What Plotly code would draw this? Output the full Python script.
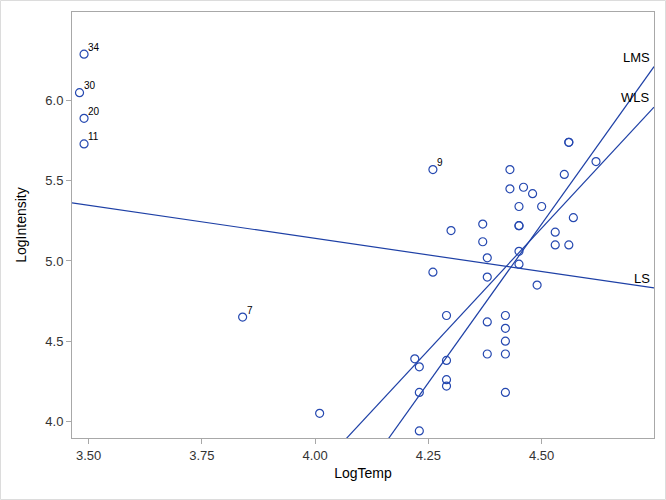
import plotly.graph_objects as go

# Star cluster CYG OB1 data
star_id = list(range(1, 48))
log_temp = [4.37, 4.56, 4.26, 4.56, 4.30, 4.46, 3.84, 4.57, 4.26, 4.37,
            3.49, 4.43, 4.48, 4.01, 4.29, 4.42, 4.23, 4.42, 4.23, 3.49,
            4.29, 4.29, 4.42, 4.49, 4.38, 4.42, 4.29, 4.38, 4.22, 3.48,
            4.38, 4.56, 4.45, 3.49, 4.23, 4.62, 4.53, 4.45, 4.53, 4.43,
            4.38, 4.45, 4.50, 4.45, 4.55, 4.45, 4.42]
log_intensity = [5.23, 5.74, 4.93, 5.74, 5.19, 5.46, 4.65, 5.27, 5.57, 5.12,
                 5.73, 5.45, 5.42, 4.05, 4.26, 4.58, 3.94, 4.18, 4.18, 5.89,
                 4.38, 4.22, 4.42, 4.85, 5.02, 4.66, 4.66, 4.90, 4.39, 6.05,
                 4.42, 5.10, 5.22, 6.29, 4.34, 5.62, 5.10, 5.22, 5.18, 5.57,
                 4.62, 5.06, 5.34, 5.34, 5.54, 4.98, 4.50]
labeled_ids = [7, 9, 11, 20, 30, 34]

# Fitted lines: (name, intercept, slope)
fit_names = ["LS", "LMS", "WLS"]
fit_intercepts = [6.793, -12.585, -8.489]
fit_slopes = [-0.413, 3.959, 3.043]

x_ticks = [3.50, 3.75, 4.00, 4.25, 4.50]
y_ticks = [4.0, 4.5, 5.0, 5.5, 6.0]
x_range = [3.4634, 4.748]
y_range = [3.896, 6.553]

mcolor = "#2548B0"
lcolor = "#1E40A6"
frame = "#A8A8A8"
font_family = "Liberation Sans, Arial, sans-serif"

fig = go.Figure()

for name, b0, b1 in zip(fit_names, fit_intercepts, fit_slopes):
    xs = [x_range[0], x_range[1]]
    ys = [b0 + b1 * v for v in xs]
    fig.add_trace(go.Scatter(x=xs, y=ys, mode="lines",
                             line=dict(color=lcolor, width=1.2),
                             showlegend=False, hoverinfo="skip"))
    fig.add_annotation(x=x_range[1], y=ys[1], text=name, showarrow=False,
                       xanchor="right", yanchor="bottom", xshift=-2, yshift=0,
                       font=dict(family=font_family, size=13, color="#000000"))

fig.add_trace(go.Scatter(x=log_temp, y=log_intensity, mode="markers",
                         marker=dict(symbol="circle-open", size=8,
                                     color=mcolor, line=dict(width=1.2, color=mcolor)),
                         showlegend=False, cliponaxis=False))

for sid, xv, yv in zip(star_id, log_temp, log_intensity):
    if sid in labeled_ids:
        fig.add_annotation(x=xv, y=yv, text=str(sid), showarrow=False,
                           xanchor="left", yanchor="middle", xshift=2, yshift=7,
                           font=dict(family=font_family, size=10, color="#000000"))

ml, mr, mt, mb = 72, 12, 12, 62
W, H = 666, 500
pw, ph = W - ml - mr, H - mt - mb
fig.add_shape(type="rect", xref="paper", yref="paper",
              x0=(-ml + 0.5) / pw, x1=(pw + mr - 0.5) / pw,
              y0=(-mb + 0.5) / ph, y1=(ph + mt - 0.5) / ph,
              line=dict(color="#DCDCDC", width=1), layer="below")

fig.update_layout(
    width=W, height=H,
    margin=dict(l=ml, r=mr, t=mt, b=mb),
    paper_bgcolor="white", plot_bgcolor="white",
    font=dict(family=font_family, size=12, color="#000000"),
    xaxis=dict(range=x_range, tickvals=x_ticks,
               ticktext=[f"{v:.2f}" for v in x_ticks],
               showgrid=False, zeroline=False, showline=True, mirror=True,
               linecolor=frame, linewidth=1, ticks="outside", ticklen=5,
               tickcolor=frame, tickfont=dict(size=13, color="#333333"),
               title=dict(text="LogTemp", font=dict(size=14), standoff=6)),
    yaxis=dict(range=y_range, tickvals=y_ticks,
               ticktext=[f"{v:.1f}" for v in y_ticks],
               showgrid=False, zeroline=False, showline=True, mirror=True,
               linecolor=frame, linewidth=1, ticks="outside", ticklen=5,
               tickcolor=frame, tickfont=dict(size=13, color="#333333"),
               title=dict(text="LogIntensity", font=dict(size=14), standoff=15)),
)

fig.write_html("out.html", config={"displayModeBar": False},
               post_script="document.body.style.margin='0';")
